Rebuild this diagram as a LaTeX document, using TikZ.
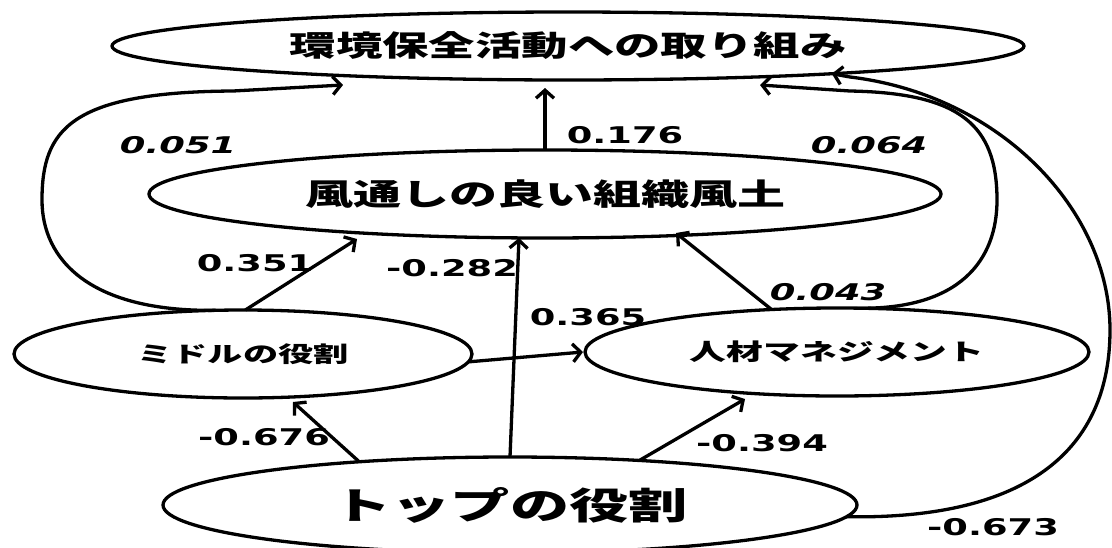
\documentclass[tikz,border=0pt]{standalone}
\usepackage{fontspec}
\setmainfont{DejaVu Sans}
\newfontfamily\jp{Noto Sans CJK JP}
\newfontfamily\numfont{DejaVu Sans}
\usetikzlibrary{shapes.geometric,arrows.meta}
\newcommand{\sx}[1]{\scalebox{1.6}[1]{#1}}
\begin{document}
\begin{tikzpicture}[x=1pt,y=-1pt,
  every node/.style={inner sep=0pt, outer sep=0pt},
  ell/.style={draw, ellipse, line width=3.3pt},
  arr/.style={line width=3.3pt, -{Straight Barb[length=8pt,width=18pt]}},
  lab/.style={font=\numfont\bfseries\fontsize{23}{23}\selectfont},
  labi/.style={font=\numfont\bfseries\itshape\fontsize{23}{23}\selectfont}]
\useasboundingbox (0,0) rectangle (1112,547);
\node[ell, minimum width=912pt, minimum height=68pt] (kankyo) at (568,46)
  {\jp\bfseries\fontsize{29}{29}\selectfont\sx{環境保全活動への取り組み}};
\node[ell, minimum width=792pt, minimum height=88pt] (fudo) at (545,194)
  {\jp\bfseries\fontsize{30}{30}\selectfont\sx{風通しの良い組織風土}};
\node[ell, minimum width=458pt, minimum height=88pt] (middle) at (243,354)
  {\jp\bfseries\fontsize{22}{22}\selectfont\sx{ミドルの役割}};
\node[ell, minimum width=504pt, minimum height=88pt] (jinzai) at (837,352)
  {\jp\bfseries\fontsize{23}{23}\selectfont\sx{人材マネジメント}};
\node[ell, minimum width=694pt, minimum height=96pt] (top) at (510,505)
  {\jp\bfseries\fontsize{37}{37}\selectfont\sx{トップの役割}};
% tips
\coordinate (t1) at (545,88);
\coordinate (t2) at (357,239);
\coordinate (t3) at (519,238);
\coordinate (t4) at (676,233);
\coordinate (t5) at (583,352);
\coordinate (t6) at (293,402);
\coordinate (t7) at (745,399);
\coordinate (t8) at (343,85);
\coordinate (t9) at (760,85);
% straight arrows
\draw[arr] (fudo.north) -- (t1);
\draw[arr] (middle.87) -- (t2);
\draw[arr] (top.north) -- (t3);
\draw[arr] (jinzai.147) -- (t4);
\draw[arr] (middle.-2) -- (t5);
\draw[arr] (top.164) -- (t6);
\draw[arr] (top.19) -- (t7);
% curved arrows
\draw[arr] (middle.122) .. controls (90,312) and (42,260) .. (42,200)
  .. controls (42,130) and (70,92) .. (233,91) -- (t8);
\draw[arr] (jinzai.65) .. controls (960,310) and (997,260) .. (997,200)
  .. controls (997,125) and (960,93) .. (850,91) -- (t9);
\draw[arr] (top.-2) .. controls (1040,520) and (1110,440) .. (1110,330)
  .. controls (1110,210) and (1000,95) .. (850,77) -- (kankyo.-6.3);
% labels
\node[labi] (l051) at (178,145) {\sx{0.051}};
\node[labi] (l064) at (869,145) {\sx{0.064}};
\node[lab] (l176) at (625,135) {\sx{0.176}};
\node[lab] (l351) at (255,263) {\sx{0.351}};
\node[lab] (l282) at (452,268) {\sx{-0.282}};
\node[labi] (l043) at (828,292) {\sx{0.043}};
\node[lab] (l365) at (588,317) {\sx{0.365}};
\node[lab] (l676) at (264,437) {\sx{-0.676}};
\node[lab] (l394) at (762,443) {\sx{-0.394}};
\node[lab] (l673) at (993,527) {\sx{-0.673}};
\end{tikzpicture}
\end{document}
